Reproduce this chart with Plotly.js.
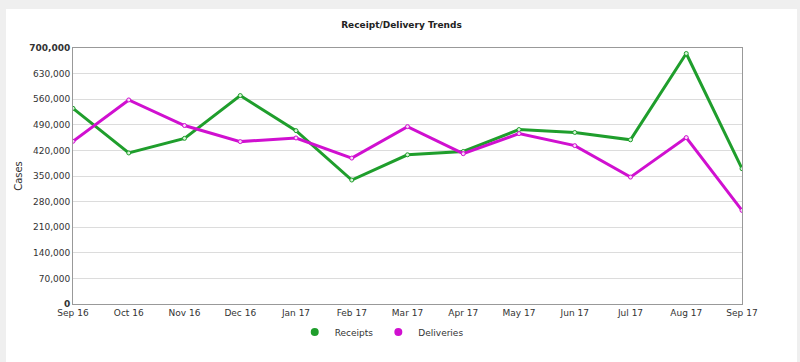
<!DOCTYPE html>
<html>
<head>
<meta charset="utf-8">
<script src="https://cdn.plot.ly/plotly-3.0.1.min.js"></script>
<style>
html,body{margin:0;padding:0;background:#efefef;width:800px;height:362px;overflow:hidden;}
#chart{position:absolute;left:6px;top:9px;width:791px;height:353px;background:#fff;}
</style>
</head>
<body>
<div id="chart"></div>
<script>
const months = ["Sep 16","Oct 16","Nov 16","Dec 16","Jan 17","Feb 17","Mar 17","Apr 17","May 17","Jun 17","Jul 17","Aug 17","Sep 17"];
const receipts = [535000, 413000, 453000, 570000, 474000, 339000, 408000, 417000, 477000, 469000, 449000, 685000, 370000];
const deliveries = [445000, 558000, 488000, 444000, 454000, 399000, 485000, 411000, 466000, 433000, 347000, 455000, 256000];
const yTicks = [0, 70000, 140000, 210000, 280000, 350000, 420000, 490000, 560000, 630000, 700000];
const yTickText = ["<b>0</b>","70,000","140,000","210,000","280,000","350,000","420,000","490,000","560,000","630,000","<b>700,000</b>"];

const green = "#1f9e2c";
const magenta = "#d010d0";

const traces = [
  {x: months, y: receipts, name: "Receipts", mode: "lines+markers", showlegend: false,
   line: {color: green, width: 3}, marker: {size: 4, color: "#d8f5d8", line: {color: green, width: 1}}},
  {x: months, y: deliveries, name: "Deliveries", mode: "lines+markers", showlegend: false,
   line: {color: magenta, width: 3}, marker: {size: 4, color: "#f8d8f8", line: {color: magenta, width: 1}}},
  {x: [null], y: [null], name: "Receipts", mode: "markers", marker: {size: 8, color: green}},
  {x: [null], y: [null], name: "Deliveries", mode: "markers", marker: {size: 8, color: magenta}}
];

const layout = {
  width: 791, height: 353,
  paper_bgcolor: "#ffffff", plot_bgcolor: "#ffffff",
  margin: {l: 67, r: 55, t: 39, b: 58},
  font: {family: "DejaVu Sans, Verdana, sans-serif", size: 9, color: "#333"},
  title: {text: "<b>Receipt/Delivery Trends</b>", font: {size: 9, color: "#222"}, x: 0.5, xanchor: "center", y: 0.955, yanchor: "middle"},
  xaxis: {type: "category", range: [0, 12], showgrid: false, zeroline: false,
    showline: true, linecolor: "#999", linewidth: 1, mirror: true, ticks: "", tickfont: {size: 9, color: "#333"}},
  yaxis: {range: [0, 700000], tickvals: yTicks, ticktext: yTickText, showgrid: true, gridcolor: "#dcdcdc",
    zeroline: false, showline: true, linecolor: "#999", linewidth: 1, mirror: true, ticks: "",
    tickfont: {size: 9, color: "#333"},
    title: {text: "Cases", font: {size: 10, color: "#333"}, standoff: 4}},
  legend: {orientation: "h", xref: "container", yref: "container", x: 0.475, xanchor: "center", y: 0.085, yanchor: "middle",
    font: {size: 9, color: "#333"}, itemwidth: 30, tracegroupgap: 0, bgcolor: "rgba(0,0,0,0)"},
  showlegend: true
};

Plotly.newPlot("chart", traces, layout, {displayModeBar: false, staticPlot: true});
</script>
</body>
</html>
